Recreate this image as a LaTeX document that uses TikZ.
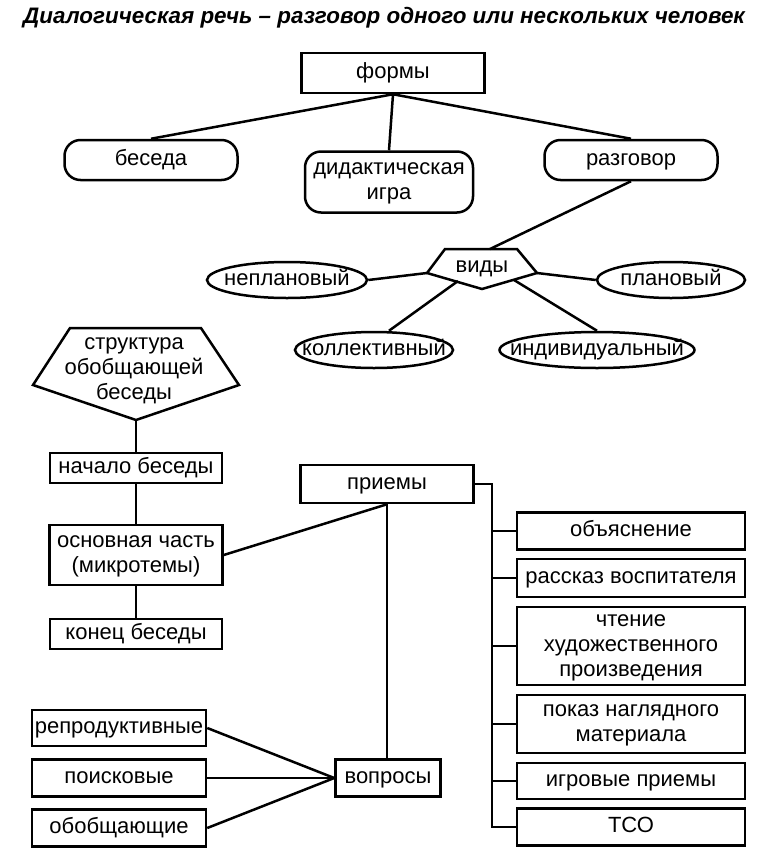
\documentclass[tikz,border=0pt]{standalone}
\usepackage{fontspec}
\setmainfont{Liberation Sans}
\usetikzlibrary{shapes.geometric}
\newcommand{\mytab}[1]{\begin{tabular}{@{}c@{}}#1\end{tabular}}
\begin{document}
\begin{tikzpicture}[x=1pt,y=-1pt,line width=2.5pt,
  font=\fontsize{22}{25}\selectfont,
  box/.style={draw,rectangle,inner sep=0pt},
  rbox/.style={draw,rectangle,rounded corners=16pt,inner sep=0pt},
  ell/.style={draw,ellipse,inner ysep=0pt,inner xsep=-30pt,minimum height=36pt},
  con/.style={line width=2.5pt}]
\useasboundingbox (0,0) rectangle (768,855);
% title
\node (title) at (384,18) {\fontsize{22.4}{25}\selectfont\bfseries\itshape Диалогическая речь – разговор одного или нескольких человек};
% top tree
\node[box,minimum width=183pt,minimum height=40pt] (formy) at (393,73) {\mytab{формы}};
\node[rbox,minimum width=173pt,minimum height=40pt] (beseda) at (151,160) {\mytab{беседа}};
\node[rbox,minimum width=168pt,minimum height=61pt] (didakt) at (389,182) {\mytab{дидактическая\\игра}};
\node[rbox,minimum width=173pt,minimum height=40pt] (razgovor) at (631,160) {\mytab{разговор}};
\draw[con] (formy.south) -- (beseda.north);
\draw[con] (formy.south) -- (didakt.north);
\draw[con] (formy.south) -- (razgovor.north);
% vidy
\coordinate (vTL) at (445,249);
\coordinate (vTR) at (517,249);
\coordinate (vR) at (537,273);
\coordinate (vB) at (482,289);
\coordinate (vL) at (427,273);
\draw[line width=2.5pt,line join=miter] (vTL) -- (vTR) -- (vR) -- (vB) -- (vL) -- cycle;
\node (vidy) at (482,267) {\mytab{виды}};
\coordinate (vT) at (490,249);
\coordinate (vLL) at (458,281);
\coordinate (vLR) at (514,280);
\draw[con] (razgovor.south) -- (vT);
\node[ell,minimum width=160pt] (neplan) at (287,280) {\mytab{неплановый}};
\node[ell,minimum width=148pt] (plan) at (671,280) {\mytab{плановый}};
\node[ell,minimum width=158pt] (koll) at (374,350) {\mytab{коллективный}};
\node[ell,minimum width=195pt] (indiv) at (597,350) {\mytab{индивидуальный}};
\draw[con] (neplan.east) -- (vL);
\draw[con] (plan.west) -- (vR);
\draw[con] (koll.north) ++(15,0) -- (vLL);
\draw[con] (indiv.north) -- (vLR);
% structure
\coordinate (sTL) at (70,328);
\coordinate (sTR) at (201,328);
\coordinate (sR) at (239,385);
\coordinate (sB) at (136,420);
\coordinate (sL) at (33,385);
\draw[line width=2.5pt,line join=miter] (sTL) -- (sTR) -- (sR) -- (sB) -- (sL) -- cycle;
\node (struct) at (134,369) {\mytab{структура\\обобщающей\\беседы}};
\node[box,minimum width=172pt,minimum height=30pt] (nachalo) at (136,468) {\mytab{начало беседы}};
\node[box,minimum width=173pt,minimum height=60pt] (osnov) at (136,555) {\mytab{основная часть\\(микротемы)}};
\node[box,minimum width=172pt,minimum height=30pt] (konec) at (136,634) {\mytab{конец беседы}};
\draw[con] (sB) -- (nachalo.north);
\draw[con] (nachalo.south) -- (osnov.north);
\draw[con] (osnov.south) -- (konec.north);
% priemy
\node[box,minimum width=173pt,minimum height=38pt] (priemy) at (387,484) {\mytab{приемы}};
\node[box,minimum width=105pt,minimum height=37pt] (voprosy) at (388,778) {\mytab{вопросы}};
\draw[con] (osnov.east) -- (priemy.south);
\draw[con] (priemy.south) -- (priemy.south |- voprosy.north);
% right list
\node[box,minimum width=228pt,minimum height=37pt] (obyas) at (631,531) {\mytab{объяснение}};
\node[box,minimum width=228pt,minimum height=38pt] (rasskaz) at (631,578) {\mytab{рассказ воспитателя}};
\node[box,minimum width=228pt,minimum height=78pt] (chtenie) at (631,646) {\mytab{чтение\\художественного\\произведения}};
\node[box,minimum width=228pt,minimum height=58pt] (pokaz) at (631,724) {\mytab{показ наглядного\\материала}};
\node[box,minimum width=228pt,minimum height=36pt] (igrovye) at (631,781) {\mytab{игровые приемы}};
\node[box,minimum width=228pt,minimum height=37pt] (tso) at (631,827) {\mytab{ТСО}};
\coordinate (busT) at (492,484);
\draw[con,line join=miter] (priemy.east) -- (busT) -- (busT |- tso.west) -- (tso.west);
\foreach \n in {obyas,rasskaz,chtenie,pokaz,igrovye}
  \draw[con] (busT |- \n.west) -- (\n.west);
% left list
\node[box,minimum width=174pt,minimum height=36pt] (repr) at (119,728) {\mytab{репродуктивные}};
\node[box,minimum width=174pt,minimum height=37pt] (poisk) at (119,778) {\mytab{поисковые}};
\node[box,minimum width=174pt,minimum height=37pt] (obob) at (119,828) {\mytab{обобщающие}};
\draw[con] (repr.east) -- (voprosy.west);
\draw[con] (poisk.east) -- (voprosy.west);
\draw[con] (obob.east) -- (voprosy.west);
\end{tikzpicture}
\end{document}
